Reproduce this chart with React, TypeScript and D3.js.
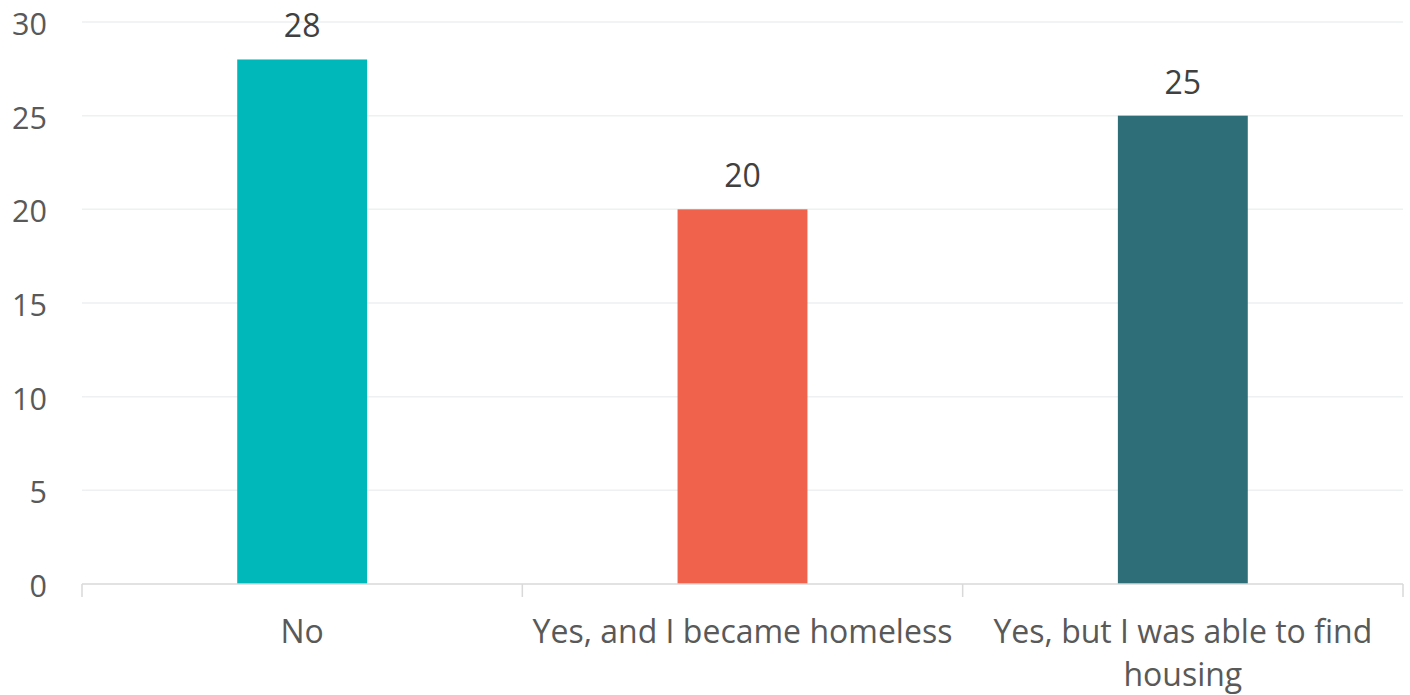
import React, { useEffect, useRef } from "react";
import * as d3 from "d3";

const categories = ["No", "Yes, and I became homeless", "Yes, but I was able to find housing"];
const values = [28, 20, 25];
const colors = ["#00B8BA", "#F0624B", "#2E6E78"];
const yTicks = [0, 5, 10, 15, 20, 25, 30];

const W = 1410;
const H = 695;
const FONT = "'Open Sans', 'Liberation Sans', sans-serif";

export default function App() {
  const ref = useRef<SVGSVGElement>(null);

  useEffect(() => {
    const svg = d3.select(ref.current);
    svg.selectAll("*").remove();

    const left = 82, right = 1403, top = 22, bottom = 584;
    const x = d3.scaleBand<string>().domain(categories).range([left, right]).paddingInner(0).paddingOuter(0);
    const y = d3.scaleLinear().domain([0, 30]).range([bottom, top]);
    const barW = x.bandwidth() * 0.295;

    // gridlines
    svg.append("g").selectAll("line").data(yTicks.filter(t => t !== 0)).join("line")
      .attr("x1", left).attr("x2", right)
      .attr("y1", d => y(d)).attr("y2", d => y(d))
      .attr("stroke", "#EDF1F1").attr("stroke-width", 1.5);

    // y tick labels
    svg.append("g").selectAll("text").data(yTicks).join("text")
      .attr("x", 47).attr("y", d => y(d) + 1)
      .attr("text-anchor", "end").attr("dominant-baseline", "central")
      .attr("font-family", FONT).attr("font-size", 30.5).attr("fill", "#595959")
      .text(d => String(d));

    // bars
    svg.append("g").selectAll("rect").data(values).join("rect")
      .attr("x", (d, i) => (x(categories[i]) as number) + x.bandwidth() / 2 - barW / 2)
      .attr("y", d => y(d))
      .attr("width", barW)
      .attr("height", d => y(0) - y(d))
      .attr("fill", (d, i) => colors[i]);

    // data labels
    svg.append("g").selectAll("text").data(values).join("text")
      .attr("x", (d, i) => (x(categories[i]) as number) + x.bandwidth() / 2)
      .attr("y", d => y(d) - 22)
      .attr("text-anchor", "middle")
      .attr("font-family", FONT).attr("font-size", 32).attr("fill", "#404040")
      .text(d => String(d));

    // x axis line and ticks
    svg.append("line").attr("x1", left).attr("x2", right).attr("y1", bottom).attr("y2", bottom)
      .attr("stroke", "#D9D9D9").attr("stroke-width", 1.5);
    const edges = [...categories.map(c => x(c) as number), right];
    svg.append("g").selectAll("line").data(edges).join("line")
      .attr("x1", d => d).attr("x2", d => d).attr("y1", bottom).attr("y2", bottom + 13)
      .attr("stroke", "#D9D9D9").attr("stroke-width", 1.5);

    // category labels with wrapping
    const maxW = x.bandwidth() - 10;
    categories.forEach(cat => {
      const cx = (x(cat) as number) + x.bandwidth() / 2;
      const t = svg.append("text")
        .attr("text-anchor", "middle")
        .attr("font-family", FONT).attr("font-size", 32).attr("fill", "#595959");
      const words = cat.split(" ");
      const lines: string[] = [];
      let cur = "";
      const probe = t.append("tspan");
      words.forEach(w => {
        const test = cur ? cur + " " + w : w;
        probe.text(test);
        const len = (probe.node() as SVGTSpanElement).getComputedTextLength();
        if (len > maxW && cur) {
          lines.push(cur);
          cur = w;
        } else {
          cur = test;
        }
      });
      lines.push(cur);
      probe.remove();
      lines.forEach((ln, i) => {
        t.append("tspan").attr("x", cx).attr("y", 643 + i * 43).text(ln);
      });
    });
  }, []);

  return (
    <svg ref={ref} width={W} height={H}
      style={{ position: "absolute", left: 0, top: 0, background: "#fff" }} />
  );
}
